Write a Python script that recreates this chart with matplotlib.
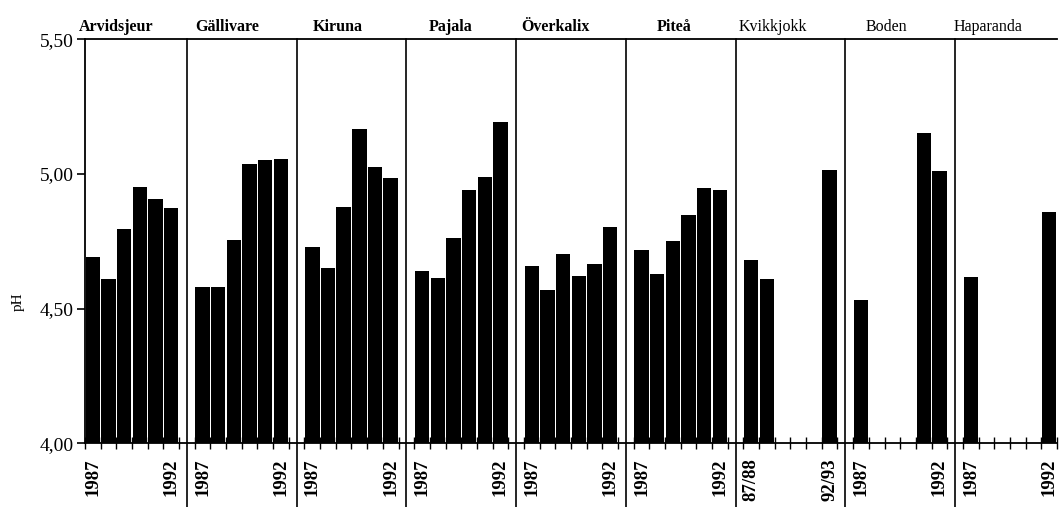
import numpy as np
import matplotlib
matplotlib.use('Agg')
import matplotlib.pyplot as plt

plt.rcParams['font.family'] = ['Liberation Serif', 'DejaVu Serif']

stations = ['Arvidsjeur', 'Gällivare', 'Kiruna', 'Pajala', 'Överkalix',
            'Piteå', 'Kvikkjokk', 'Boden', 'Haparanda']
# pH per year 1987..1992 (Kvikkjokk 87/88..92/93), nan = no data
arvidsjeur = [4.69, 4.61, 4.795, 4.952, 4.906, 4.874]
gallivare = [4.581, 4.581, 4.755, 5.037, 5.052, 5.055]
kiruna = [4.728, 4.652, 4.876, 5.166, 5.026, 4.984]
pajala = [4.639, 4.614, 4.763, 4.941, 4.988, 5.192]
overkalix = [4.659, 4.568, 4.704, 4.622, 4.667, 4.803]
pitea = [4.717, 4.629, 4.751, 4.849, 4.949, 4.942]
kvikkjokk = [4.682, 4.610, np.nan, np.nan, np.nan, 5.015]
boden = [4.532, np.nan, np.nan, np.nan, 5.151, 5.012]
haparanda = [4.616, np.nan, np.nan, np.nan, np.nan, 4.859]
first_labels = ['1987', '1987', '1987', '1987', '1987', '1987', '87/88', '1987', '1987']
last_labels = ['1992', '1992', '1992', '1992', '1992', '1992', '92/93', '1992', '1992']

series = [arvidsjeur, gallivare, kiruna, pajala, overkalix, pitea,
          kvikkjokk, boden, haparanda]
bold = [True, True, True, True, True, True, False, False, False]
title_off = [2.0, 2.1, 2.1, 2.3, 2.0, 2.6, 1.9, 2.1, 1.6]

fig = plt.figure(figsize=(10.61, 5.07), dpi=100)
ax = fig.add_axes([0.0801, 0.1256, 0.9161, 0.7969])

major = []
minor = []
minor_lab = []
for g, vals in enumerate(series):
    x0 = g * 7
    xs = x0 + np.arange(6) + 0.5
    ax.bar(xs, vals, width=0.92, color='black')
    major += list(x0 + np.arange(7))
    minor += [xs[0], xs[-1]]
    minor_lab += [first_labels[g], last_labels[g]]
    if g > 0:
        ax.axvline(x0 - 0.5, ymin=-0.16, ymax=1, color='black', lw=1.2, clip_on=False)
    ax.text(x0 + title_off[g], 5.515, stations[g], ha='center', va='bottom',
            fontsize=11.5, fontweight='bold' if bold[g] else 'normal')

ax.set_xlim(0, 62)
ax.set_ylim(4.0, 5.5)
ax.set_yticks([4.0, 4.5, 5.0, 5.5])
ax.set_yticklabels(['4,00', '4,50', '5,00', '5,50'], fontsize=14)
ax.tick_params(axis='y', direction='out', length=6, width=1.2, pad=2)
ax.set_xticks(major)
ax.set_xticklabels([])
ax.set_xticks(minor, minor=True)
ax.set_xticklabels(minor_lab, minor=True, rotation=90, fontsize=13.5, fontweight='bold')
ax.tick_params(axis='x', which='major', direction='inout', length=9, width=1)
ax.tick_params(axis='x', which='minor', length=0, pad=11)

ax.spines['right'].set_visible(False)
for s in ['left', 'top', 'bottom']:
    ax.spines[s].set_linewidth(1.3)

ax.set_ylabel('pH', fontsize=11)
ax.yaxis.set_label_coords(-0.062, 0.35)

fig.savefig('out.png', dpi=100)
